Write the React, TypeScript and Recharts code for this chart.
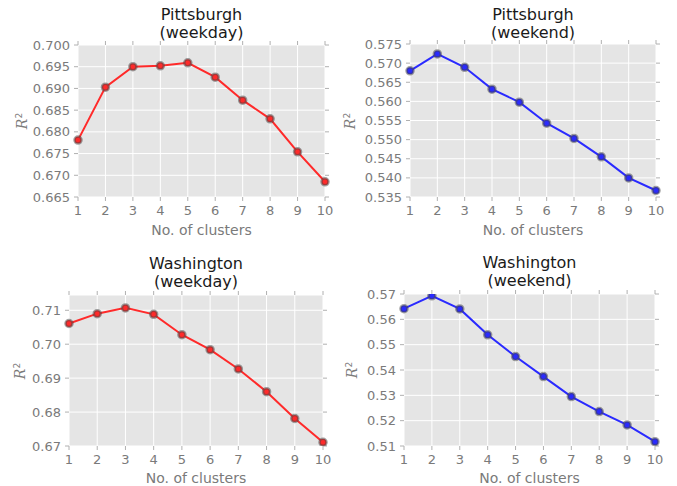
import React from "react";
import { LineChart, Line, XAxis, YAxis, CartesianGrid } from "recharts";

const clusters = [1, 2, 3, 4, 5, 6, 7, 8, 9, 10];
const pittWeekday = [0.6781, 0.6903, 0.695, 0.6952, 0.6959, 0.6926, 0.6873, 0.683, 0.6754, 0.6685];
const pittWeekend = [0.568, 0.5724, 0.5689, 0.5632, 0.5598, 0.5543, 0.5503, 0.5455, 0.54, 0.5367];
const washWeekday = [0.7061, 0.709, 0.7107, 0.7088, 0.7028, 0.6984, 0.6927, 0.686, 0.6781, 0.6711];
const washWeekend = [0.5642, 0.5693, 0.5641, 0.5539, 0.5453, 0.5374, 0.5295, 0.5236, 0.5183, 0.5117];

const pittWeekdayTicks = [0.665, 0.67, 0.675, 0.68, 0.685, 0.69, 0.695, 0.7];
const pittWeekendTicks = [0.535, 0.54, 0.545, 0.55, 0.555, 0.56, 0.565, 0.57, 0.575];
const washWeekdayTicks = [0.67, 0.68, 0.69, 0.7, 0.71];
const washWeekendTicks = [0.51, 0.52, 0.53, 0.54, 0.55, 0.56, 0.57];

const FONT = "'DejaVu Sans', sans-serif";
const GRAY = "#7a7a7a";

type Box = { left: number; top: number; width: number; height: number };
type Plot = { x1: number; x2: number; y1: number; y2: number };

function Txt(props: {
  x: number;
  y: number;
  size: number;
  color: string;
  rotate?: number;
  lineHeight?: string | number;
  children: React.ReactNode;
}) {
  const { x, y, size, color, rotate = 0, lineHeight = 1, children } = props;
  return (
    <div
      style={{
        position: "absolute",
        left: x,
        top: y,
        transform: `translate(-50%, -50%) rotate(${rotate}deg)`,
        fontFamily: FONT,
        fontSize: size,
        color,
        whiteSpace: "nowrap",
        lineHeight,
        textAlign: "center",
      }}
    >
      {children}
    </div>
  );
}

function Panel(props: {
  box: Box;
  plot: Plot;
  values: number[];
  domain: [number, number];
  yTicks: number[];
  digits: number;
  color: string;
  title: [string, string];
  titleY: number;
  titleLH: number;
  xLabelY: number;
  yLabelX: number;
}) {
  const { box, plot, values, domain, yTicks, digits, color, title, titleY, titleLH, xLabelY, yLabelX } = props;
  const data = clusters.map((k, i) => ({ k, v: values[i] }));
  const sideAxis = 5;
  const yAxisW = plot.x1 - box.left;
  const rightSpace = box.left + box.width - plot.x2;
  const topSpace = plot.y1 - box.top;
  const xAxisH = box.top + box.height - plot.y2;
  const cx = (plot.x1 + plot.x2) / 2;
  const cy = (plot.y1 + plot.y2) / 2;
  const tickStyle = { fontFamily: FONT, fontSize: 13, fill: GRAY };
  const tickLine = { stroke: "#b0b0b0" };
  return (
    <>
      <div style={{ position: "absolute", left: box.left, top: box.top }}>
        <LineChart
          width={box.width}
          height={box.height}
          data={data}
          margin={{ top: topSpace - sideAxis, right: rightSpace - sideAxis, left: 0, bottom: 0 }}
        >
          <CartesianGrid fill="#e5e5e5" stroke="#ffffff" strokeWidth={1} xAxisId="b" yAxisId="l" />
          <XAxis
            xAxisId="b"
            dataKey="k"
            type="number"
            domain={[1, 10]}
            ticks={clusters}
            height={xAxisH}
            axisLine={false}
            tickLine={tickLine}
            tickSize={4}
            tickMargin={5}
            tick={tickStyle}
            interval={0}
          />
          <XAxis
            xAxisId="t"
            orientation="top"
            dataKey="k"
            type="number"
            domain={[1, 10]}
            ticks={clusters}
            height={sideAxis}
            axisLine={false}
            tickLine={tickLine}
            tickSize={4}
            tickFormatter={() => ""}
            interval={0}
          />
          <YAxis
            yAxisId="l"
            type="number"
            domain={domain}
            ticks={yTicks}
            width={yAxisW}
            axisLine={false}
            tickLine={tickLine}
            tickSize={4}
            tickMargin={4}
            tick={tickStyle}
            interval={0}
            allowDataOverflow
            tickFormatter={(v: number) => v.toFixed(digits)}
          />
          <YAxis
            yAxisId="r"
            orientation="right"
            type="number"
            domain={domain}
            ticks={yTicks}
            width={sideAxis}
            axisLine={false}
            tickLine={tickLine}
            tickSize={4}
            tickFormatter={() => ""}
            interval={0}
            allowDataOverflow
          />
          <Line
            xAxisId="b"
            yAxisId="l"
            dataKey="v"
            type="linear"
            stroke={color}
            strokeWidth={2}
            dot={{ r: 3.5, fill: color, stroke: "rgba(70,70,70,0.5)", strokeWidth: 2.5 }}
            isAnimationActive={false}
          />
        </LineChart>
      </div>
      <Txt x={cx} y={titleY} size={16} color="#1a1a1a" lineHeight={`${titleLH}px`}>
        {title[0]}
        <br />
        {title[1]}
      </Txt>
      <Txt x={cx} y={xLabelY} size={14} color={GRAY}>No. of clusters</Txt>
      <Txt x={yLabelX} y={cy} size={14} color={GRAY} rotate={-90}>
        <span style={{ fontStyle: "italic", fontFamily: "'DejaVu Serif', serif" }}>R</span>
        <sup style={{ fontSize: 9 }}>2</sup>
      </Txt>
    </>
  );
}

export default function App() {
  return (
    <div style={{ position: "absolute", left: 0, top: 0, width: 677, height: 486, background: "#ffffff", overflow: "hidden" }}>
      <Panel
        box={{ left: 0, top: 0, width: 338, height: 245 }}
        plot={{ x1: 78, x2: 325, y1: 45, y2: 197 }}
        values={pittWeekday}
        domain={[0.665, 0.7]}
        yTicks={pittWeekdayTicks}
        digits={3}
        color="#ff2a2a"
        title={["Pittsburgh", "(weekday)"]}
        titleY={24}
        titleLH={18}
        xLabelY={230}
        yLabelX={22}
      />
      <Panel
        box={{ left: 338, top: 0, width: 339, height: 245 }}
        plot={{ x1: 410, x2: 656, y1: 44, y2: 197 }}
        values={pittWeekend}
        domain={[0.535, 0.575]}
        yTicks={pittWeekendTicks}
        digits={3}
        color="#2a2aff"
        title={["Pittsburgh", "(weekend)"]}
        titleY={24}
        titleLH={18}
        xLabelY={230}
        yLabelX={350}
      />
      <Panel
        box={{ left: 0, top: 245, width: 338, height: 241 }}
        plot={{ x1: 69, x2: 323, y1: 295, y2: 446 }}
        values={washWeekday}
        domain={[0.67, 0.7145]}
        yTicks={washWeekdayTicks}
        digits={2}
        color="#ff2a2a"
        title={["Washington", "(weekday)"]}
        titleY={272}
        titleLH={17.5}
        xLabelY={478}
        yLabelX={20}
      />
      <Panel
        box={{ left: 338, top: 245, width: 339, height: 241 }}
        plot={{ x1: 404, x2: 655, y1: 294, y2: 446 }}
        values={washWeekend}
        domain={[0.51, 0.57]}
        yTicks={washWeekendTicks}
        digits={2}
        color="#2a2aff"
        title={["Washington", "(weekend)"]}
        titleY={271}
        titleLH={17.5}
        xLabelY={478}
        yLabelX={352}
      />
    </div>
  );
}
